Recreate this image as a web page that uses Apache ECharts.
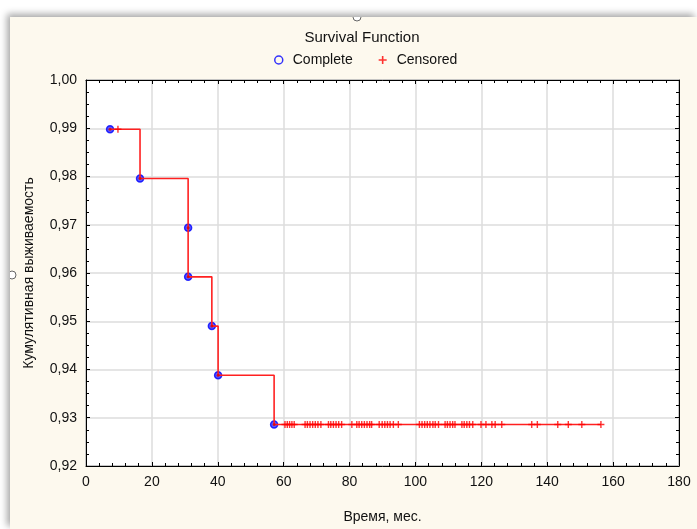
<!DOCTYPE html>
<html>
<head>
<meta charset="utf-8">
<script src="https://cdn.jsdelivr.net/npm/echarts@6/dist/echarts.min.js"></script>
<style>
html,body{margin:0;padding:0;background:#ffffff;width:697px;height:529px;overflow:hidden;}
#wrap{position:absolute;left:10px;top:17px;width:687px;height:512px;background:#fdf9ee;box-shadow:-3px -3px 7px rgba(0,0,0,0.35);}
#chart{position:absolute;left:0;top:0;width:687px;height:512px;}
</style>
</head>
<body>
<div id="wrap"><div id="chart"></div></div>
<script>
// Data (months, survival)
const eventTimes = [7.3, 16.4, 31.0, 31.0, 38.2, 40.1, 57.1];
const eventSurv  = [0.9898, 0.9796, 0.9694, 0.9592, 0.9490, 0.9388, 0.9286];
const censoredTimes = [9.7,
  60.4, 61.1, 61.8, 62.5, 63.2,
  66.5, 67.2, 68.0, 68.8, 69.6, 70.4, 71.3,
  73.6, 74.3, 75.1, 75.9, 76.7, 77.6,
  80.7,
  82.2, 82.9, 83.7, 84.5, 85.3, 86.1, 86.7,
  89.0, 89.9, 90.7, 91.5, 92.3, 93.3, 94.8,
  101.2, 102.0, 102.8, 103.6, 104.4, 105.3, 106.0, 107.0,
  109.0, 109.7, 110.5, 111.3, 112.0,
  114.1, 114.8, 115.6, 116.4, 117.4,
  119.9, 121.4, 123.2, 124.2, 126.2,
  135.3, 137.0, 143.2, 146.4, 150.5, 156.3];
const xTicks = [0, 20, 40, 60, 80, 100, 120, 140, 160, 180];
const yTicks = [0.92, 0.93, 0.94, 0.95, 0.96, 0.97, 0.98, 0.99, 1.00];

function survAt(t) {
  let s = 1;
  for (let i = 0; i < eventTimes.length; i++) if (eventTimes[i] <= t) s = eventSurv[i];
  return s;
}
// Step line built from events
const lineData = [[eventTimes[0], eventSurv[0]]];
for (let i = 1; i < eventTimes.length; i++) {
  lineData.push([eventTimes[i], eventSurv[i - 1]]);
  lineData.push([eventTimes[i], eventSurv[i]]);
}
lineData.push([censoredTimes[censoredTimes.length - 1], eventSurv[eventSurv.length - 1]]);
const completeData = eventTimes.map((t, i) => [t, eventSurv[i]]);
const censoredData = censoredTimes.map(t => [t, survAt(t)]);

const FONT = '"Liberation Sans", Arial, sans-serif';
const plusPath = 'path://M4,0h2v4h4v2h-4v4h-2v-4h-4v-2h4z';

const axCommonX = {
  type: 'value', min: xTicks[0], max: xTicks[xTicks.length - 1], interval: 20,
  axisLine: {show: true, onZero: false, lineStyle: {color: '#000', width: 1}},
  axisTick: {show: true, inside: true, length: 4, lineStyle: {color: '#000'}},
  minorTick: {show: true, splitNumber: 5, length: 3, lineStyle: {color: '#000'}},
};
const axCommonY = {
  type: 'value', min: yTicks[0], max: yTicks[yTicks.length - 1], interval: 0.01,
  axisLine: {show: true, onZero: false, lineStyle: {color: '#000', width: 1}},
  axisTick: {show: true, inside: true, length: 4, lineStyle: {color: '#000'}},
  minorTick: {show: true, splitNumber: 4, length: 3, lineStyle: {color: '#000'}},
};

const chart = echarts.init(document.getElementById('chart'), null, {renderer: 'canvas'});
chart.setOption({
  animation: false,
  backgroundColor: 'transparent',
  textStyle: {fontFamily: FONT},
  title: {
    text: 'Survival Function', left: 347, top: 8, textAlign: 'center',
    textStyle: {fontSize: 15, fontWeight: 'normal', color: '#111', fontFamily: FONT}
  },
  legend: {
    left: 259, top: 31, itemWidth: 8, itemHeight: 8, itemGap: 26,
    textStyle: {fontSize: 14, color: '#111', fontFamily: FONT, padding: [0, 0, 0, 5]},
    data: [
      {name: 'Complete', icon: 'circle', itemStyle: {color: 'transparent', borderColor: '#0000ff', borderWidth: 1.5}},
      {name: 'Censored', icon: plusPath, itemStyle: {color: '#ff0000'}}
    ]
  },
  grid: {
    left: 76, right: 18, top: 63, bottom: 60,
    show: true, backgroundColor: '#ffffff', borderColor: '#000', borderWidth: 1
  },
  graphic: [
    {type: 'circle', shape: {cx: 347, cy: 0, r: 4}, style: {fill: '#fff', stroke: '#666', lineWidth: 1}},
    {type: 'circle', shape: {cx: 2, cy: 258, r: 4}, style: {fill: '#fff', stroke: '#666', lineWidth: 1}}
  ],
  xAxis: [
    Object.assign({}, axCommonX, {
      position: 'bottom',
      name: 'Время, мес.', nameLocation: 'middle', nameGap: 44,
      nameTextStyle: {fontSize: 14, color: '#111', fontFamily: FONT},
      axisLabel: {show: true, margin: 9, fontSize: 14, color: '#111', fontFamily: FONT,
        formatter: v => String(v)},
      splitLine: {show: true, lineStyle: {color: '#dcdcdc', width: 1.5}}
    }),
    Object.assign({}, axCommonX, {
      position: 'top', axisLabel: {show: false}, splitLine: {show: false}
    })
  ],
  yAxis: [
    Object.assign({}, axCommonY, {
      position: 'left',
      name: 'Кумулятивная выживаемость', nameLocation: 'middle', nameGap: 50, nameRotate: 90,
      nameTextStyle: {fontSize: 14, color: '#111', fontFamily: FONT},
      axisLabel: {show: true, margin: 9, fontSize: 14, color: '#111', fontFamily: FONT,
        formatter: v => v.toFixed(2).replace('.', ',')},
      splitLine: {show: true, lineStyle: {color: '#dcdcdc', width: 1.5}}
    }),
    Object.assign({}, axCommonY, {
      position: 'right', axisLabel: {show: false}, splitLine: {show: false}
    })
  ],
  series: [
    {
      name: 'Complete', type: 'scatter', xAxisIndex: 0, yAxisIndex: 0, z: 2,
      symbol: 'circle', symbolSize: 7,
      itemStyle: {color: '#3030ff', borderColor: '#0000ff', borderWidth: 1.5},
      data: completeData
    },
    {
      name: 'KM', type: 'line', xAxisIndex: 0, yAxisIndex: 0, z: 3,
      showSymbol: false, symbol: 'none',
      lineStyle: {color: '#ff2020', width: 1.6},
      data: lineData
    },
    {
      name: 'Censored', type: 'scatter', xAxisIndex: 0, yAxisIndex: 0, z: 4,
      symbol: plusPath, symbolSize: 7,
      itemStyle: {color: '#ff0000'},
      data: censoredData
    },
    {
      name: 'Complete', type: 'scatter', xAxisIndex: 0, yAxisIndex: 0, z: 5,
      symbol: 'circle', symbolSize: 3, silent: true,
      itemStyle: {color: '#e00000'},
      data: completeData
    }
  ]
});
</script>
</body>
</html>
